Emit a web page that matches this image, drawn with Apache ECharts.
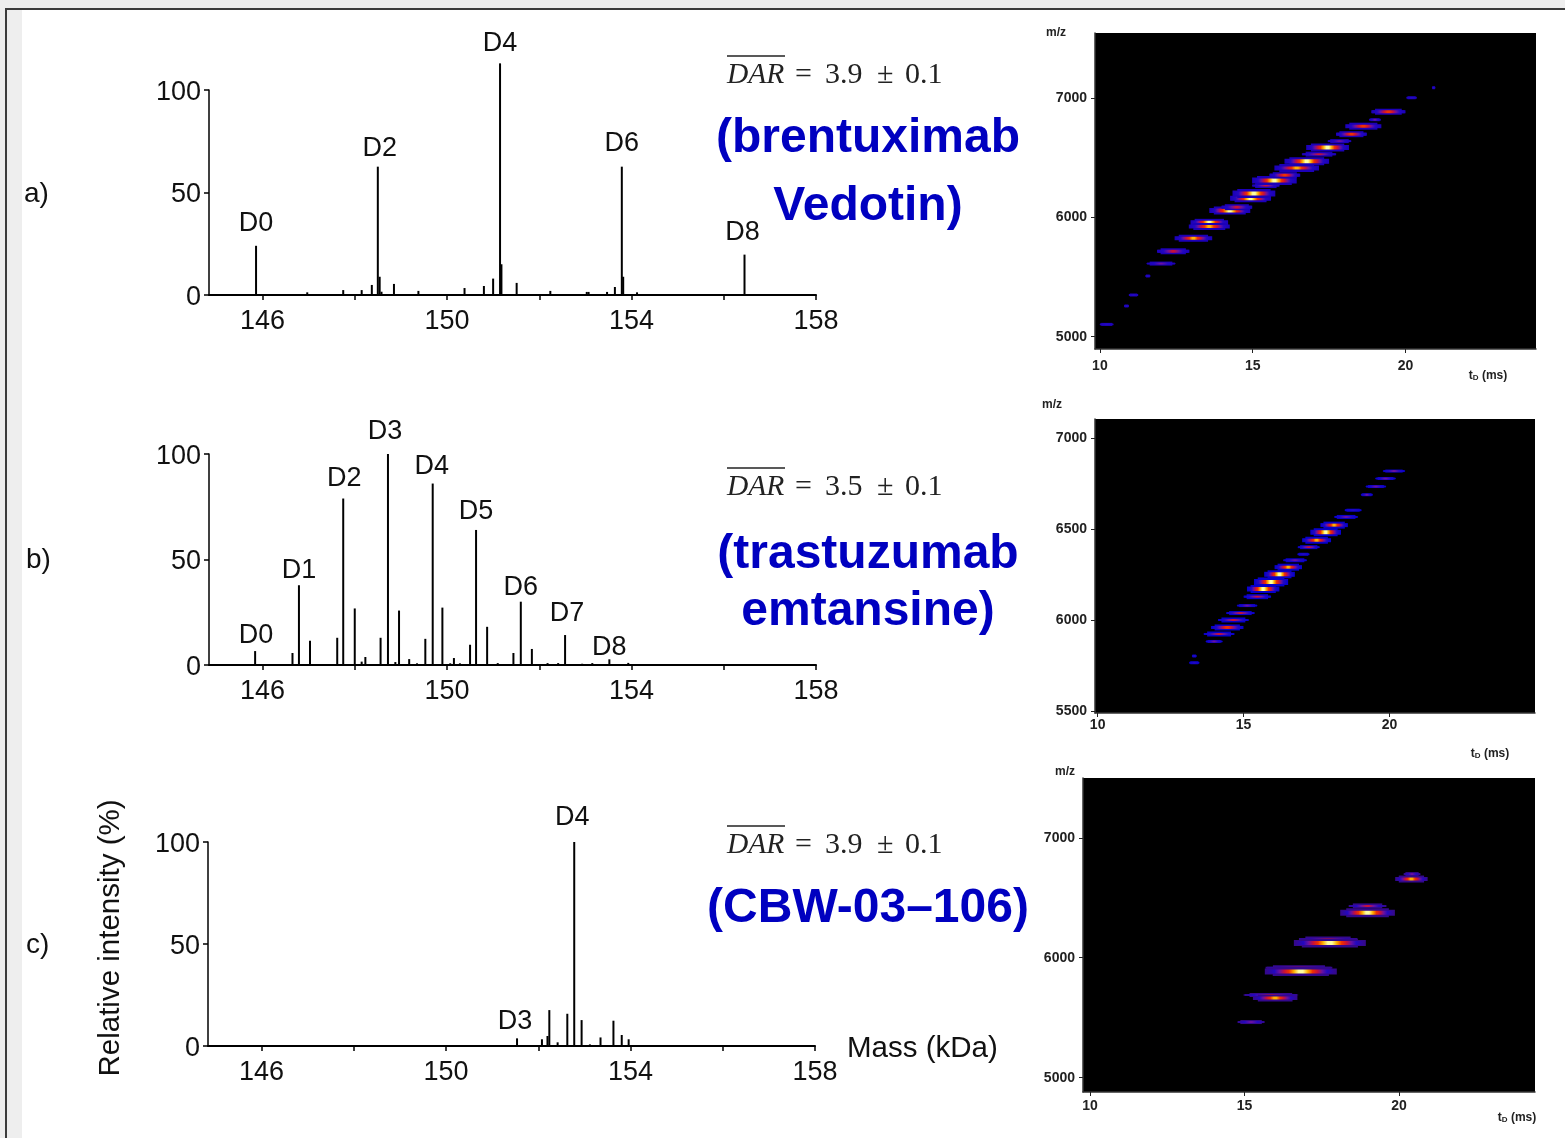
<!DOCTYPE html>
<html>
<head>
<meta charset="utf-8">
<title>DAR native MS</title>
<script src="https://cdn.jsdelivr.net/npm/echarts@6/dist/echarts.min.js"></script>
<style>
  html, body { margin: 0; padding: 0; background: #fff; }
  #main { width: 1565px; height: 1138px; }
</style>
</head>
<body>
<div id="main"></div>
<script>
// deconvoluted spectra: mass in kDa, relative intensity in %, name of the labelled peaks
const massA = [145.86, 146.97, 147.75, 148.15, 148.37, 148.5, 148.54, 148.58, 148.85, 149.38, 150.38, 150.8, 151.0, 151.15, 151.18, 151.51, 152.24, 153.03, 153.07, 153.47, 153.64, 153.79, 153.82, 154.12, 156.45];
const intensityA = [24, 1.3, 2.4, 2.4, 4.9, 62.6, 8.9, 1.6, 5.4, 2, 3.4, 4.4, 8, 113, 15, 5.9, 2, 1.5, 1.5, 1.5, 3.9, 62.6, 8.9, 1.3, 19.7];
const peakNamesA = { 145.86: "D0", 148.5: "D2", 151.15: "D4", 153.79: "D6", 156.45: "D8" };

const massB = [145.84, 146.65, 146.79, 147.03, 147.62, 147.75, 148, 148.15, 148.23, 148.56, 148.72, 148.88, 148.96, 149.18, 149.35, 149.53, 149.69, 149.9, 150.07, 150.15, 150.28, 150.5, 150.63, 150.87, 151.1, 151.44, 151.6, 151.84, 152.18, 152.41, 152.56, 152.93, 153.15, 153.52, 153.93];
const intensityB = [6.6, 5.7, 37.8, 11.5, 12.9, 78.9, 26.8, 1.6, 3.8, 12.9, 100, 1.4, 25.8, 2.8, 0.8, 12.4, 86, 27.2, 0.8, 3.3, 0.8, 9.6, 64, 18.1, 0.9, 5.7, 30, 7.6, 0.9, 0.9, 14.2, 0.6, 0.9, 2.7, 1];
const peakNamesB = { 145.84: "D0", 146.79: "D1", 147.75: "D2", 148.72: "D3", 149.69: "D4", 150.63: "D5", 151.6: "D6", 152.56: "D7", 153.52: "D8" };

const massC = [151.54, 152.08, 152.2, 152.24, 152.42, 152.63, 152.78, 152.94, 153.12, 153.35, 153.63, 153.81, 153.96];
const intensityC = [3.75, 3.3, 4.9, 17.6, 1.8, 15.8, 100, 12.7, 0.8, 4.2, 12.4, 5.4, 3.3];
const peakNamesC = { 151.54: "D3", 152.78: "D4" };

const massTicks = [146, 148, 150, 152, 154, 156, 158];
const massLabels = [146, 150, 154, 158];
const intensityTicks = [0, 50, 100];

// ion mobility maps: each band is one charge state (drift time ms, m/z, spread in ms, relative level)
const tdA = [10.22, 10.87, 11.1, 11.57, 12.0, 12.4, 13.06, 13.58, 13.58, 14.25, 14.48, 14.93, 15.04, 15.43, 15.71, 16.05, 16.44, 16.77, 17.17, 17.45, 17.84, 18.23, 18.62, 19.0, 19.44, 20.2, 20.92];
const mzA = [5103, 5257, 5349, 5508, 5612, 5715, 5824, 5953, 5922, 6056, 6084, 6159, 6198, 6265, 6307, 6352, 6413, 6469, 6528, 6584, 6637, 6695, 6762, 6816, 6883, 7000, 7084];
const spreadA = [0.45, 0.16, 0.31, 0.16, 0.95, 1.06, 1.23, 1.23, 1.34, 1.34, 1.01, 1.34, 1.4, 0.9, 1.46, 1.01, 1.46, 1.46, 1.12, 1.4, 0.78, 1.01, 1.18, 0.39, 1.12, 0.34, 0.11];
const levelA = [0.1, 0.08, 0.1, 0.08, 0.3, 0.5, 0.7, 0.85, 0.7, 0.9, 0.5, 0.9, 1, 0.4, 1, 0.6, 0.8, 0.9, 0.4, 0.85, 0.3, 0.6, 0.65, 0.2, 0.6, 0.1, 0.08];

const tdB = [13.31, 13.31, 13.99, 14.16, 14.44, 14.65, 14.89, 15.12, 15.47, 15.67, 15.94, 16.23, 16.53, 16.76, 17.05, 17.23, 17.5, 17.81, 18.1, 18.51, 18.75, 19.22, 19.53, 19.86, 20.15];
const mzB = [5804, 5767, 5884, 5925, 5961, 6002, 6040, 6081, 6130, 6172, 6211, 6253, 6292, 6330, 6363, 6402, 6440, 6484, 6523, 6568, 6605, 6690, 6735, 6779, 6820];
const spreadB = [0.16, 0.35, 0.58, 1.05, 1.11, 1.05, 0.99, 0.7, 0.94, 1.11, 1.17, 1.05, 0.94, 0.82, 0.41, 0.76, 0.99, 1.05, 0.94, 0.82, 0.58, 0.41, 0.7, 0.7, 0.76];
const levelB = [0.08, 0.1, 0.2, 0.45, 0.55, 0.45, 0.35, 0.2, 0.4, 0.85, 1, 0.9, 0.7, 0.25, 0.1, 0.35, 0.75, 0.9, 0.7, 0.3, 0.1, 0.2, 0.2, 0.2, 0.2];

const tdC = [15.21, 15.85, 15.99, 16.76, 16.82, 17.7, 17.76, 18.98, 18.98, 20.42, 20.4];
const mzC = [5464, 5690, 5665, 5916, 5886, 6153, 6123, 6432, 6374, 6697, 6656];
const spreadC = [0.89, 1.77, 1.44, 2.16, 2.33, 1.88, 2.33, 1.22, 1.77, 0.55, 1.05];
const levelC = [0.25, 0.35, 0.75, 0.4, 0.95, 0.5, 1, 0.4, 1, 0.3, 0.75];

const heatColors = ["#2208c0", "#6a10a0", "#c81038", "#f03000", "#ffb000", "#ffffa0"];
const blue = "#0000c0";
const sansFont = '"Liberation Sans", Arial, sans-serif';
const serifFont = '"Liberation Serif", serif';

function spectrum(index, mass, intensity, names, shifts, left, top, height) {
  return {
    grid: { left: left, top: top, width: 607, height: height },
    xAxis: {
      type: "value", gridIndex: index, min: 144.84, max: 158,
      splitLine: { show: false },
      axisLine: { onZero: false, lineStyle: { color: "#000", width: 2 } },
      axisTick: { show: true, customValues: massTicks, length: 5, lineStyle: { color: "#000", width: 1.5 } },
      axisLabel: { customValues: massLabels, color: "#111", fontFamily: sansFont, fontSize: 27, margin: 13 }
    },
    yAxis: {
      type: "value", gridIndex: index, min: 0, max: 100,
      splitLine: { show: false },
      axisLine: { lineStyle: { color: "#000", width: 1.5 } },
      axisTick: { show: true, customValues: intensityTicks, length: 5, lineStyle: { color: "#000", width: 1.5 } },
      axisLabel: {
        customValues: intensityTicks, margin: 8,
        formatter: v => "{v|" + v + "}",
        rich: { v: { color: "#111", fontFamily: sansFont, fontSize: 27, padding: [5, 0, 0, 0] } }
      }
    },
    series: {
      type: "bar", xAxisIndex: index, yAxisIndex: index, barWidth: 2, clip: false, silent: true,
      itemStyle: { color: "#000" },
      data: mass.map((m, i) => ({
        value: [m, intensity[i]],
        label: names[m] ? {
          show: true, position: "top", distance: 6, formatter: names[m],
          offset: shifts[names[m]] || [0, 0],
          color: "#111", fontFamily: sansFont, fontSize: 27
        } : { show: false }
      }))
    }
  };
}

function heatBand(fringe) {
  return function (params, api) {
    const center = api.coord([api.value(0), api.value(1)]);
    const width = api.size([api.value(2), 0])[0];
    const level = api.value(3);
    const reached = Math.max(1, Math.ceil(level * heatColors.length));
    const stops = [{ offset: 0, color: fringe }, { offset: 1, color: fringe }];
    for (let i = 0; i < reached; i++) {
      const d = 0.05 + (0.42 * (i + 1)) / reached;
      stops.push({ offset: d, color: heatColors[i] }, { offset: 1 - d, color: heatColors[i] });
    }
    stops.sort((a, b) => a.offset - b.offset);
    const tall = Math.round(2 + level * 7);
    const core = Math.max(2, Math.round(1 + level * 3));
    const rect = (w, h, fill) => ({
      type: "rect",
      shape: { x: center[0] - w / 2, y: center[1] - h / 2, width: w, height: h },
      style: { fill: fill }
    });
    return {
      type: "group",
      children: [
        rect(width, Math.max(1, tall - 3), fringe),
        rect(width * 0.78, tall, fringe),
        rect(width * 0.96, core, new echarts.graphic.LinearGradient(0, 0, 1, 0, stops))
      ]
    };
  };
}

function mobilityMap(index, td, mz, spread, level, box, tdRange, mzRange, mzTicks, labelMargin, fringe) {
  return {
    grid: {
      left: box[0], top: box[1], width: box[2], height: box[3],
      show: true, backgroundColor: "#000", borderWidth: 0
    },
    xAxis: {
      type: "value", gridIndex: index, min: tdRange[0], max: tdRange[1],
      splitLine: { show: false },
      axisLine: { onZero: false, lineStyle: { color: "#333", width: 1.5 } },
      axisTick: { show: true, customValues: [10, 15, 20], length: 4, lineStyle: { color: "#222" } },
      axisLabel: { customValues: [10, 15, 20], color: "#222", fontFamily: sansFont, fontSize: 14, fontWeight: "bold", margin: labelMargin }
    },
    yAxis: {
      type: "value", gridIndex: index, min: mzRange[0], max: mzRange[1],
      splitLine: { show: false },
      axisLine: { lineStyle: { color: "#333", width: 1.5 } },
      axisTick: { show: true, customValues: mzTicks, length: 4, lineStyle: { color: "#222" } },
      axisLabel: {
        customValues: mzTicks, color: "#222", fontFamily: sansFont, fontSize: 14, fontWeight: "bold", margin: 8,
        formatter: v => String(v)
      }
    },
    series: {
      type: "custom", xAxisIndex: index, yAxisIndex: index, silent: true,
      renderItem: heatBand(fringe),
      encode: { x: 0, y: 1 },
      data: td.map((t, i) => [t, mz[i], spread[i], level[i]])
    }
  };
}

const panels = [
  spectrum(0, massA, intensityA, peakNamesA, { D0: [0, -3], D2: [2, 1], D6: [0, -4], D8: [-2, -3] }, 209, 90, 205),
  spectrum(1, massB, intensityB, peakNamesB, { D0: [1, 4], D1: [0, 5], D2: [1, 0], D3: [-3, -3], D4: [-1, 3], D5: [0, 1], D6: [0, 5], D7: [2, -2], D8: [0, 8] }, 209, 454, 211),
  spectrum(2, massC, intensityC, peakNamesC, { D3: [-2, 3], D4: [-2, -5] }, 208, 842, 204),
  mobilityMap(3, tdA, mzA, spreadA, levelA, [1095, 33, 441, 316], [9.84, 24.27], [4897, 7542], [5000, 6000, 7000], 10, "#1c00b8"),
  mobilityMap(4, tdB, mzB, spreadB, levelB, [1095, 419, 440, 294], [9.91, 24.98], [5491, 7106], [5500, 6000, 6500, 7000], 5, "#0800cc"),
  mobilityMap(5, tdC, mzC, spreadC, levelC, [1083, 778, 452, 314], [9.77, 24.4], [4881, 7498], [5000, 6000, 7000], 7, "#34088c")
];

function text(x, y, str, font, fill, align) {
  return {
    type: "text", x: x, y: y, z: 10,
    style: { text: str, font: font, fill: fill || "#111", align: align || "left", verticalAlign: "middle" }
  };
}

function darText(y, value) {
  const font = '30px ' + serifFont;
  return [
    text(727, y, "DAR", 'italic 29.5px ' + serifFont, "#222"),
    text(795, y, "=", font, "#222"),
    text(825, y, value, font, "#222"),
    text(877, y, "\u00b1", font, "#222"),
    text(905, y, "0.1", font, "#222"),
    {
      type: "line", z: 10,
      shape: { x1: 727, y1: y - 19, x2: 785, y2: y - 19 },
      style: { stroke: "#222", lineWidth: 1.5 }
    }
  ];
}

function driftLabel(x, y) {
  return {
    type: "text", x: x, y: y, z: 10,
    style: {
      text: "t{s|D} (ms)", font: 'bold 12px ' + sansFont, fill: "#222", align: "center", verticalAlign: "middle",
      rich: { s: { fontSize: 8, fontWeight: "bold", fontFamily: sansFont, fill: "#222", verticalAlign: "bottom", padding: [4, 0, 0, 0] } }
    }
  };
}

const boldBlue = 'bold 48px ' + sansFont;
const graphics = [
  // window frame around the screenshot
  { type: "rect", z: -1, shape: { x: 0, y: 0, width: 1565, height: 8 }, style: { fill: "#eeeeee" } },
  { type: "rect", z: -1, shape: { x: 0, y: 0, width: 22, height: 1138 }, style: { fill: "#eeeeee" } },
  { type: "rect", z: -1, shape: { x: 5, y: 8, width: 1560, height: 2 }, style: { fill: "#3c3c3c" } },
  { type: "rect", z: -1, shape: { x: 5, y: 8, width: 2, height: 1130 }, style: { fill: "#3c3c3c" } },

  text(24, 194, "a)", '28px ' + sansFont),
  text(26, 560, "b)", '28px ' + sansFont),
  text(26, 945, "c)", '28px ' + sansFont),
  text(847, 1049, "Mass (kDa)", '29.5px ' + sansFont),
  {
    type: "text", x: 111, y: 938, rotation: Math.PI / 2, z: 10,
    style: { text: "Relative intensity (%)", font: '29.5px ' + sansFont, fill: "#111", align: "center", verticalAlign: "middle" }
  },

  ...darText(75, "3.9"),
  ...darText(487, "3.5"),
  ...darText(845, "3.9"),

  text(868, 139, "(brentuximab", boldBlue, blue, "center"),
  text(868, 207, "Vedotin)", boldBlue, blue, "center"),
  text(868, 555, "(trastuzumab", boldBlue, blue, "center"),
  text(868, 612, "emtansine)", boldBlue, blue, "center"),
  text(868, 909, "(CBW-03\u2013106)", boldBlue, blue, "center"),

  text(1056, 33, "m/z", 'bold 12px ' + sansFont, "#222", "center"),
  text(1052, 405, "m/z", 'bold 12px ' + sansFont, "#222", "center"),
  text(1065, 772, "m/z", 'bold 12px ' + sansFont, "#222", "center"),
  driftLabel(1488, 376),
  driftLabel(1490, 754),
  driftLabel(1517, 1118)
];

const chart = echarts.init(document.getElementById("main"), null, { renderer: "canvas" });
chart.setOption({
  animation: false,
  backgroundColor: "#fff",
  grid: panels.map(p => p.grid),
  xAxis: panels.map(p => p.xAxis),
  yAxis: panels.map(p => p.yAxis),
  series: panels.map(p => p.series),
  graphic: { elements: graphics }
});
</script>
</body>
</html>
